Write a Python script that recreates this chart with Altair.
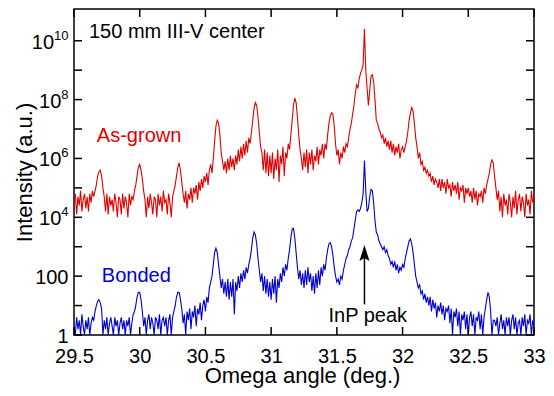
import altair as alt
import pandas as pd

# ---- data (log10 of intensity, one value every 0.01 deg from 29.50 to 33.00) ----
angle_start = 29.5
angle_step = 0.01

red_log = [
    4.5, 4.8, 4.1, 4.7, 4.4, 4.9, 4.2, 4.6, 4.8, 4.3,      # 29.50
    4.7, 4.2, 4.8, 4.5, 4.9, 4.7, 4.9, 5.1, 5.4, 5.55,     # 29.60
    5.6, 5.4, 5.0, 4.7, 4.2, 4.8, 4.1, 4.7, 4.4, 4.6,      # 29.70
    4.2, 4.8, 4.5, 4.0, 4.7, 4.6, 4.1, 4.8, 4.3, 4.7,      # 29.80
    4.5, 4.0, 4.8, 4.4, 4.7, 4.6, 4.9, 5.1, 5.4, 5.7,      # 29.90
    5.8, 5.6, 5.3, 4.9, 4.6, 4.0, 4.7, 4.3, 4.8, 4.5,      # 30.00
    4.1, 4.7, 4.6, 4.0, 4.8, 4.4, 4.7, 4.2, 4.9, 4.5,      # 30.10
    4.6, 4.1, 4.8, 4.5, 4.0, 4.7, 4.9, 5.1, 5.4, 5.7,      # 30.20
    5.85, 5.6, 5.2, 4.8, 4.5, 4.9, 4.3, 4.8, 4.6, 5.0,     # 30.30
    4.5, 5.0, 4.8, 5.1, 4.6, 5.2, 4.9, 5.3, 5.0, 5.4,      # 30.40
    5.2, 5.5, 5.1, 5.6, 5.8, 5.5, 6.0, 6.6, 7.1, 7.3,      # 30.50
    7.2, 6.8, 6.2, 5.9, 5.6, 5.9, 5.5, 6.0, 5.6, 6.1,      # 30.60
    5.7, 6.0, 5.6, 6.1, 5.8, 6.3, 5.9, 6.4, 6.0, 6.5,      # 30.70
    6.1, 6.6, 6.2, 6.7, 6.5, 6.9, 7.3, 7.7, 7.9, 7.8,      # 30.80
    7.4, 6.9, 6.4, 6.2, 5.6, 6.3, 5.5, 6.2, 5.4, 6.1,      # 30.90
    5.5, 6.2, 5.3, 6.0, 5.6, 6.3, 5.2, 6.1, 5.8, 6.4,      # 31.00
    5.4, 6.2, 6.0, 6.5, 6.3, 6.8, 7.3, 7.8, 8.05, 7.9,     # 31.10
    7.4, 6.8, 6.3, 6.0, 5.6, 6.2, 5.7, 6.3, 5.5, 6.2,      # 31.20
    5.8, 6.3, 5.6, 6.1, 5.9, 6.4, 5.8, 6.3, 6.1, 6.5,      # 31.30
    6.0, 6.5, 6.3, 6.8, 7.2, 7.45, 7.55, 7.5, 7.1, 6.5,    # 31.40
    6.1, 6.3, 5.8, 6.2, 6.0, 6.4, 6.2, 6.5, 6.4, 6.7,      # 31.50
    7.0, 7.2, 7.5, 7.8, 8.2, 8.5, 8.4, 8.7, 8.9, 9.0,      # 31.60
    9.2, 10.4, 9.0, 8.4, 7.8, 8.3, 8.8, 8.85, 8.6, 8.0,    # 31.70
    7.3, 7.2, 7.0, 6.9, 6.7, 6.8, 6.5, 6.7, 6.4, 6.6,      # 31.80
    6.3, 6.6, 6.2, 6.5, 6.1, 6.4, 6.2, 6.5, 6.0, 6.3,      # 31.90
    6.4, 6.2, 6.4, 6.6, 6.9, 7.3, 7.55, 7.73, 7.6, 7.2,    # 32.00
    6.7, 6.4, 6.0, 6.2, 5.8, 5.9, 5.6, 5.7, 5.5, 5.6,      # 32.10
    5.4, 5.5, 5.2, 5.4, 5.1, 5.3, 5.2, 5.0, 5.3, 4.9,      # 32.20
    5.3, 5.0, 5.2, 4.8, 5.3, 5.0, 5.1, 4.7, 5.2, 4.9,      # 32.30
    5.1, 4.8, 5.2, 4.6, 5.0, 4.9, 5.1, 4.5, 5.0, 4.8,      # 32.40
    5.0, 4.7, 4.9, 4.5, 5.0, 4.6, 4.9, 4.4, 4.8, 4.7,      # 32.50
    4.9, 4.5, 5.0, 4.8, 5.1, 5.3, 5.5, 5.8, 5.95, 5.85,    # 32.60
    5.4, 5.0, 4.6, 4.9, 4.2, 4.7, 4.0, 4.8, 4.4, 4.6,      # 32.70
    4.1, 4.8, 4.5, 4.0, 4.7, 4.3, 4.9, 4.1, 4.6, 4.8,      # 32.80
    4.2, 4.7, 4.5, 4.0, 4.8, 4.4, 4.6, 4.1, 4.9, 4.5,      # 32.90
    4.7,                                                   # 33.00
]

blue_log = [
    0.3, 0.0, 0.6, 0.2, 0.5, 0.0, 0.7, 0.3, 0.0, 0.5,      # 29.50
    0.2, 0.6, 0.0, 0.4, 0.6, 0.5, 0.8, 1.0, 1.15, 1.2,     # 29.60
    1.1, 0.9, 0.0, 0.5, 0.2, 0.6, 0.0, 0.4, 0.6, 0.3,      # 29.70
    0.0, 0.6, 0.3, 0.5, 0.0, 0.4, 0.6, 0.2, 0.5, 0.0,      # 29.80
    0.5, 0.3, 0.6, 0.0, 0.4, 0.7, 0.8, 1.0, 1.3, 1.45,     # 29.90
    1.45, 1.2, 0.8, 0.3, 0.6, 0.0, 0.5, 0.7, 0.2, 0.6,     # 30.00
    0.4, 0.0, 0.6, 0.5, 0.2, 0.7, 0.0, 0.5, 0.6, 0.3,      # 30.10
    0.6, 0.0, 0.5, 0.7, 0.0, 0.6, 0.8, 1.0, 1.3, 1.45,     # 30.20
    1.45, 1.2, 0.9, 0.4, 0.7, 0.0, 0.8, 0.5, 0.9, 0.2,     # 30.30
    0.8, 0.6, 1.0, 0.3, 0.9, 0.7, 1.1, 0.5, 1.0, 1.2,      # 30.40
    0.8, 1.3, 1.1, 1.6, 1.8, 2.0, 2.4, 2.8, 2.95, 2.8,     # 30.50
    2.4, 2.0, 1.6, 1.9, 1.4, 1.8, 1.3, 1.9, 1.2, 1.8,      # 30.60
    1.3, 1.9, 0.7, 1.8, 1.5, 2.0, 1.6, 2.1, 1.8, 2.2,      # 30.70
    1.9, 2.3, 2.1, 2.4, 2.6, 2.9, 3.3, 3.5, 3.4, 3.1,      # 30.80
    2.6, 2.2, 1.8, 2.1, 1.5, 2.0, 1.4, 1.9, 1.3, 1.8,      # 30.90
    1.2, 1.9, 1.4, 2.0, 1.1, 1.9, 1.6, 2.1, 1.8, 2.3,      # 31.00
    2.0, 2.4, 2.2, 2.6, 2.9, 3.3, 3.6, 3.63, 3.3, 2.8,     # 31.10
    2.3, 1.9, 2.2, 1.7, 2.1, 1.6, 2.2, 1.7, 2.3, 1.8,      # 31.20
    2.1, 1.5, 2.0, 1.4, 2.1, 1.6, 2.2, 1.7, 2.3, 2.0,      # 31.30
    2.4, 2.2, 2.6, 2.9, 3.1, 3.14, 3.0, 2.7, 2.3, 2.0,     # 31.40
    1.8, 1.9, 1.7, 2.0, 1.9, 2.2, 2.4, 2.6, 2.7, 2.9,      # 31.50
    3.0, 3.2, 3.3, 3.6, 3.9, 4.2, 4.25, 4.2, 4.3, 4.5,     # 31.60
    4.8, 5.93, 4.9, 4.2, 4.3, 4.7, 4.95, 4.9, 4.5, 3.9,    # 31.70
    3.5, 3.4, 3.2, 3.1, 3.0, 2.9, 3.0, 2.8, 2.9, 2.7,      # 31.80
    2.6, 2.4, 2.5, 2.3, 2.5, 2.2, 2.4, 2.1, 2.3, 2.2,      # 31.90
    2.4, 2.3, 2.6, 2.8, 3.0, 3.2, 3.26, 3.1, 2.8, 2.4,     # 32.00
    2.0, 1.8, 1.6, 1.7, 1.4, 1.5, 1.2, 1.4, 1.1, 1.3,      # 32.10
    1.0, 1.3, 0.8, 1.2, 0.9, 1.1, 0.6, 1.0, 0.8, 1.1,      # 32.20
    0.7, 1.0, 0.5, 0.9, 0.8, 1.0, 0.4, 0.9, 0.0, 0.8,      # 32.30
    0.6, 0.9, 0.3, 0.8, 0.0, 0.7, 0.5, 0.8, 0.2, 0.7,      # 32.40
    0.0, 0.6, 0.8, 0.3, 0.7, 0.0, 0.6, 0.5, 0.8, 0.2,      # 32.50
    0.7, 0.0, 0.6, 0.9, 1.2, 1.45, 1.3, 0.8, 0.0, 0.5,     # 32.60
    0.5, 0.3, 0.6, 0.0, 0.4, 0.7, 0.2, 0.5, 0.0, 0.6,      # 32.70
    0.3, 0.6, 0.0, 0.5, 0.7, 0.2, 0.6, 0.0, 0.4, 0.5,      # 32.80
    0.0, 0.6, 0.3, 0.7, 0.0, 0.5, 0.4, 0.7, 0.0, 0.5,      # 32.90
    0.3,                                                   # 33.00
]

series_names = ["As-grown", "Bonded"]
series_colors = ["#e00000", "#0000d0"]

x_ticks = [29.5, 30, 30.5, 31, 31.5, 32, 32.5, 33]
y_label_values = [1, 100, 1e4, 1e6, 1e8, 1e10]
y_label_bases = ["1", "100", "10", "10", "10", "10"]
y_label_exps = ["", "", "4", "6", "8", "10"]
y_minor_exponents = list(range(0, 11))

ann_texts = ["150 mm III-V center", "As-grown", "Bonded"]
ann_x = [29.614, 29.674, 29.712]
ann_logy = [10.09, 6.55, 1.79]
ann_colors = ["#000000", "#e00000", "#0000d0"]

peak_label = "InP peak"
peak_label_x = 31.735
peak_label_logy = 0.43
arrow_x = 31.71
arrow_logy_start = 1.04
arrow_logy_end = 2.7
arrow_head_logy = 2.77

# ---- build tables ----
n = len(red_log)
assert n == len(blue_log) == 351
angles = [round(angle_start + angle_step * i, 2) for i in range(n)]
df = pd.DataFrame({
    "x": angles + angles,
    "y": [10 ** v for v in red_log] + [10 ** v for v in blue_log],
    "series": [series_names[0]] * n + [series_names[1]] * n,
})

W, H = 460, 326
FONT = "Liberation Sans"
LAB_FS, EXP_FS = 20, 13
LAB_RIGHT = -5.5          # right edge of y labels, px from the plot's left edge
DIGIT_EM = 0.556          # digit advance of Arial-metric fonts

xscale = alt.Scale(domain=[29.5, 33], nice=False, zero=False)
yscale = alt.Scale(type="log", domain=[1, 1.2e11], nice=False)

xaxis = alt.Axis(
    values=x_ticks, format="~g", title="Omega angle (deg.)",
    ticks=False, domain=False, grid=False,
    labelFontSize=LAB_FS, labelPadding=11, labelFlush=False,
    titleFontSize=22, titleX=228, titleY=47, titleBaseline="alphabetic")
yaxis = alt.Axis(
    values=y_label_values, labels=False, title="Intensity (a.u.)",
    ticks=False, domain=False, grid=False,
    titleFontSize=22, titleX=-50, titleY=H / 2, titleBaseline="middle", titleAngle=270)

X = alt.X("x:Q", scale=xscale, axis=xaxis)
Y = alt.Y("y:Q", scale=yscale, axis=yaxis)

lines = alt.Chart(df).mark_line(strokeWidth=1.1, clip=True).encode(
    x=X, y=Y,
    color=alt.Color("series:N", scale=alt.Scale(domain=series_names, range=series_colors), legend=None),
)

# inward ticks on all four sides
xt = pd.DataFrame({"x": x_ticks})
yt = pd.DataFrame({"y": [10 ** k for k in y_minor_exponents]})
tick_len = 8
tb = alt.Chart(xt).mark_rule(color="black", strokeWidth=1.5).encode(
    x=X, y=alt.value(H), y2=alt.value(H - tick_len))
tt = alt.Chart(xt).mark_rule(color="black", strokeWidth=1.5).encode(
    x=X, y=alt.value(0), y2=alt.value(tick_len))
tl = alt.Chart(yt).mark_rule(color="black", strokeWidth=1.5).encode(
    y=Y, x=alt.value(0), x2=alt.value(tick_len))
tr = alt.Chart(yt).mark_rule(color="black", strokeWidth=1.5).encode(
    y=Y, x=alt.value(W), x2=alt.value(W - tick_len))

# y tick labels with real superscript exponents
ylab = pd.DataFrame({"y": y_label_values, "base": y_label_bases, "exp": y_label_exps})
ylab["elen"] = ylab["exp"].str.len()
label_layers = []
for elen in sorted(ylab["elen"].unique()):
    sub = ylab[ylab["elen"] == elen]
    xr = LAB_RIGHT - DIGIT_EM * EXP_FS * elen
    label_layers.append(
        alt.Chart(sub).mark_text(align="right", baseline="alphabetic", dy=8, fontSize=LAB_FS,
                                 font=FONT, color="black").encode(
            y=Y, x=alt.value(xr), text="base:N"))
expdf = ylab[ylab["elen"] > 0]
label_layers.append(
    alt.Chart(expdf).mark_text(align="right", baseline="alphabetic", dy=-1, fontSize=EXP_FS,
                               font=FONT, color="black").encode(
        y=Y, x=alt.value(LAB_RIGHT), text="exp:N"))

ann = pd.DataFrame({"x": ann_x, "y": [10 ** v for v in ann_logy], "text": ann_texts, "color": ann_colors})
ann_layer = alt.Chart(ann).mark_text(align="left", baseline="alphabetic", fontSize=20, font=FONT).encode(
    x=X, y=Y, text="text:N", color=alt.Color("color:N", scale=None))

pk = pd.DataFrame({"x": [peak_label_x], "y": [10 ** peak_label_logy], "text": [peak_label]})
pk_layer = alt.Chart(pk).mark_text(align="center", baseline="alphabetic", fontSize=20, font=FONT, color="black").encode(
    x=X, y=Y, text="text:N")

shaft = pd.DataFrame({"x": [arrow_x], "y": [10 ** arrow_logy_start], "y2": [10 ** arrow_logy_end]})
shaft_layer = alt.Chart(shaft).mark_rule(color="black", strokeWidth=1.5).encode(
    x=X, y=Y, y2="y2:Q")

head = pd.DataFrame({"x": [arrow_x], "y": [10 ** arrow_head_logy]})
head_layer = alt.Chart(head).mark_point(
    shape="M0,-1L0.6,0.9L0,0.55L-0.6,0.9Z", filled=True, size=283, color="black", opacity=1).encode(
    x=X, y=Y)

chart = alt.layer(lines, tb, tt, tl, tr, *label_layers, ann_layer, pk_layer, shaft_layer, head_layer).properties(
    width=W, height=H,
    autosize=alt.AutoSizeParams(type="none"),
    padding={"left": 66, "top": 1, "right": 12, "bottom": 53},
).configure_view(stroke="black", strokeWidth=1.5).configure_axis(
    labelFont=FONT, titleFont=FONT, labelColor="black", titleColor="black", titleFontWeight="normal"
).configure_text(font=FONT)

chart.save("out.html", embed_options={"renderer": "svg", "actions": False})
